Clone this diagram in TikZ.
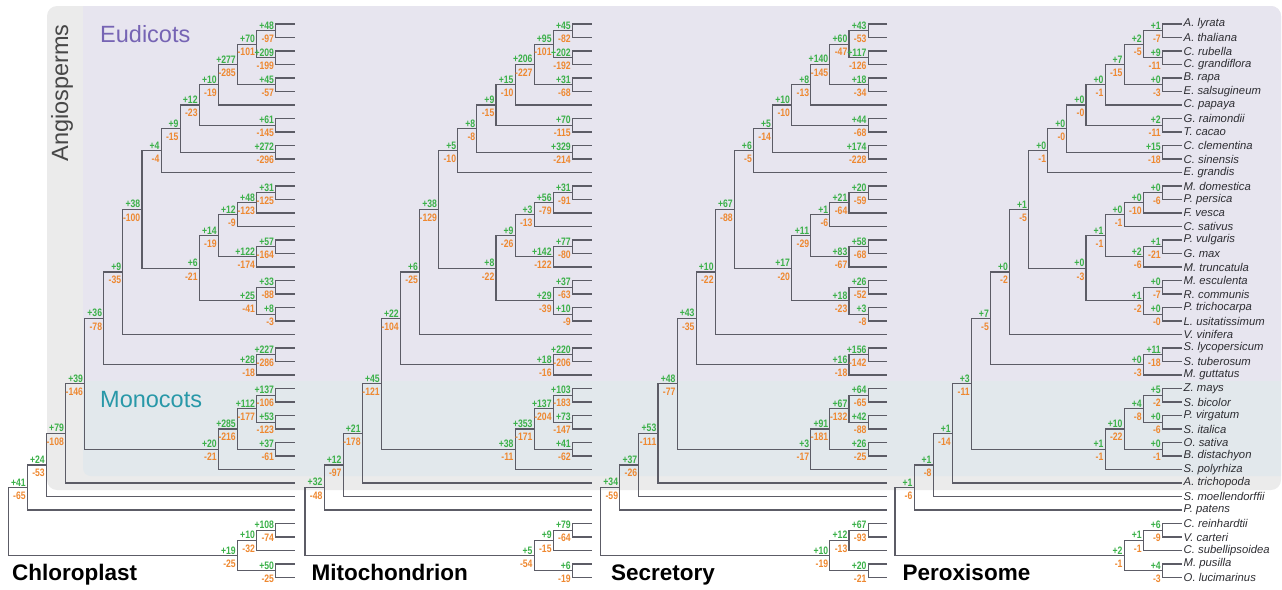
\documentclass[tikz,border=0pt]{standalone}
\usepackage{fontspec}
\setmainfont{Liberation Sans}
\newfontfamily\numfont[FakeStretch=0.8]{Liberation Sans}

\definecolor{gaincol}{RGB}{58,176,72}
\definecolor{losscol}{RGB}{238,136,48}
\definecolor{branchcol}{RGB}{92,92,102}
\definecolor{angiobg}{RGB}{235,235,235}
\definecolor{eudibg}{RGB}{231,229,239}
\definecolor{monobg}{RGB}{226,232,236}
\definecolor{eudicol}{RGB}{118,100,180}
\definecolor{monocol}{RGB}{40,152,168}
\definecolor{spcol}{RGB}{45,45,50}

\tikzset{
  branch/.style={draw=branchcol, line width=1.1pt},
  gain/.style={text=gaincol, font=\numfont\bfseries\fontsize{10.8}{11}\selectfont,
    inner sep=0pt, anchor=south east, xshift=-1.5pt, yshift=1.2pt},
  loss/.style={text=losscol, font=\numfont\bfseries\fontsize{10.8}{11}\selectfont,
    inner sep=0pt, anchor=north east, xshift=-1.5pt, yshift=-4pt},
  species/.style={text=spcol, font=\itshape\fontsize{11.3}{12}\selectfont,
    inner sep=0pt, anchor=west},
  panel/.style={font=\bfseries\fontsize{22.5}{23}\selectfont, inner sep=0pt, anchor=base west},
  clade/.style={font=\fontsize{23.5}{24}\selectfont, inner sep=0pt}
}

\def\stp{19.1}
% name/depth/y of every inner node
\def\nodelist{lyrth/14/30.75, rubgr/14/57.75, arabi/13/44.25, rapsal/14/84.75,
  brass/12/64.5, brpap/11/84.75, raica/14/125.25, malvales/10/105, citrus/14/152.25,
  malvone/9/128.625, malvids/8/150.56, maldom/14/192.75, rosfv/13/202.875,
  rosales/12/214.69, phagly/14/246.75, fabales/13/256.875, fabros/11/235.78,
  mesric/14/287.25, poplin/14/314.25, malpig/13/300.75, fabids/10/268.27,
  rosids/7/209.41, rosvit/6/271.96, solan/14/354.75, lamiid/13/364.875,
  eudic/5/318.42, zeasor/14/395.25, panset/14/422.25, panic/13/408.75,
  orybra/14/449.25, grass/12/429, monoc/11/449.25, mesang/4/383.83,
  angio/3/433.42, vasc/2/464.96, land/1/487.48, volvox/14/530.25,
  chloro/13/540.375, mamiel/14/570.75, green/12/555.56, root/0/521.52}
% parent/child/child
\def\edgelist{lyrth/l1/l2, rubgr/l3/l4, arabi/lyrth/rubgr, rapsal/l5/l6,
  brass/arabi/rapsal, brpap/brass/l7, raica/l8/l9, malvales/brpap/raica,
  citrus/l10/l11, malvone/malvales/citrus, malvids/malvone/l12, maldom/l13/l14,
  rosfv/maldom/l15, rosales/rosfv/l16, phagly/l17/l18, fabales/phagly/l19,
  fabros/rosales/fabales, mesric/l20/l21, poplin/l22/l23, malpig/mesric/poplin,
  fabids/fabros/malpig, rosids/malvids/fabids, rosvit/rosids/l24, solan/l25/l26,
  lamiid/solan/l27, eudic/rosvit/lamiid, zeasor/l28/l29, panset/l30/l31,
  panic/zeasor/panset, orybra/l32/l33, grass/panic/orybra, monoc/grass/l34,
  mesang/eudic/monoc, angio/mesang/l35, vasc/angio/l36, land/vasc/l37,
  volvox/l38/l39, chloro/volvox/l40, mamiel/l41/l42, green/chloro/mamiel,
  root/land/green}

\newcommand\phylo[2]{%
  \foreach \i in {1,...,42}
    \coordinate (#1-l\i) at (#2+15*\stp, 10.5+13.5*\i);
  \foreach \nn/\dep/\yy in \nodelist
    \coordinate (#1-\nn) at (#2+\dep*\stp, \yy);
  \foreach \pp/\ca/\cb in \edgelist
    \draw[branch] (#1-\ca) -| (#1-\pp) |- (#1-\cb);
}
\newcommand\counts[2]{%
  \foreach \nn/\gn/\ls in {#2} {
    \node[gain] (#1-\nn-g) at (#1-\nn) {+\gn};
    \node[loss] (#1-\nn-l) at (#1-\nn) {-\ls};
  }
}

\begin{document}
\begin{tikzpicture}[x=1pt,y=-1pt]
  \useasboundingbox (0,0) rectangle (1282,589);

  % clade boxes
  \begin{scope}
    \clip[rounded corners=10pt] (47,6) rectangle (1281,490);
    \fill[angiobg] (40,0) rectangle (1290,495);
    \fill[monobg, rounded corners=8pt] (83,360) rectangle (1300,476);
    \fill[eudibg] (83,0) rectangle (1290,381);
  \end{scope}
  \node[clade, rotate=90, text=black!72] (angio-lab) at (62,93) {Angiosperms};
  \node[clade, anchor=west, text=eudicol] (eudi-lab) at (100,34) {Eudicots};
  \node[clade, anchor=west, text=monocol] (mono-lab) at (100,400) {Monocots};

  % trees
  \phylo{cp}{8.3}
  \phylo{mt}{305}
  \phylo{sc}{600.7}
  \phylo{px}{895}

  % gains and losses
  \counts{cp}{lyrth/48/97, rubgr/209/199, arabi/70/101, rapsal/45/57, brass/277/285,
    brpap/10/19, raica/61/145, malvales/12/23, citrus/272/296, malvone/9/15,
    malvids/4/4, maldom/31/125, rosfv/48/123, rosales/12/9, phagly/57/164,
    fabales/122/174, fabros/14/19, mesric/33/88, poplin/8/3, malpig/25/41,
    fabids/6/21, rosids/38/100, rosvit/9/35, solan/227/286, lamiid/28/18,
    eudic/36/78, zeasor/137/106, panset/53/123, panic/112/177, orybra/37/61,
    grass/285/216, monoc/20/21, mesang/39/146, angio/79/108, vasc/24/53,
    land/41/65, volvox/108/74, chloro/10/32, mamiel/50/25, green/19/25}
  \counts{mt}{lyrth/45/82, rubgr/202/192, arabi/95/101, rapsal/31/68, brass/206/227,
    brpap/15/10, raica/70/115, malvales/9/15, citrus/329/214, malvone/8/8,
    malvids/5/10, maldom/31/91, rosfv/56/79, rosales/3/13, phagly/77/80,
    fabales/142/122, fabros/9/26, mesric/37/63, poplin/10/9, malpig/29/39,
    fabids/8/22, rosids/38/129, rosvit/6/25, solan/220/206, lamiid/18/16,
    eudic/22/104, zeasor/103/183, panset/73/147, panic/137/204, orybra/41/62,
    grass/353/171, monoc/38/11, mesang/45/121, angio/21/178, vasc/12/97,
    land/32/48, volvox/79/64, chloro/9/15, mamiel/6/19, green/5/54}
  \counts{sc}{lyrth/43/53, rubgr/117/126, arabi/60/47, rapsal/18/34, brass/140/145,
    brpap/8/13, raica/44/68, malvales/10/10, citrus/174/228, malvone/5/14,
    malvids/6/5, maldom/20/59, rosfv/21/64, rosales/1/6, phagly/58/68,
    fabales/83/67, fabros/11/29, mesric/26/52, poplin/3/8, malpig/18/23,
    fabids/17/20, rosids/67/88, rosvit/10/22, solan/156/142, lamiid/16/18,
    eudic/43/35, zeasor/64/65, panset/42/88, panic/67/132, orybra/26/25,
    grass/91/181, monoc/3/17, mesang/48/77, angio/53/111, vasc/37/26,
    land/34/59, volvox/67/93, chloro/12/13, mamiel/20/21, green/10/19}
  \counts{px}{lyrth/1/7, rubgr/9/11, arabi/2/5, rapsal/0/3, brass/7/15,
    brpap/0/1, raica/2/11, malvales/0/0, citrus/15/18, malvone/0/0,
    malvids/0/1, maldom/0/6, rosfv/0/10, rosales/0/1, phagly/1/21,
    fabales/2/6, fabros/1/1, mesric/0/7, poplin/0/0, malpig/1/2,
    fabids/0/3, rosids/1/5, rosvit/0/2, solan/11/18, lamiid/0/3,
    eudic/7/5, zeasor/5/2, panset/0/6, panic/4/8, orybra/0/1,
    grass/10/22, monoc/1/1, mesang/3/11, angio/1/14, vasc/1/8,
    land/1/6, volvox/6/9, chloro/1/1, mamiel/4/3, green/2/1}

  % species
  \foreach \i/\s in {1/A. lyrata, 2/A. thaliana, 3/C. rubella, 4/C. grandiflora,
    5/B. rapa, 6/E. salsugineum, 7/C. papaya, 8/G. raimondii, 9/T. cacao,
    10/C. clementina, 11/C. sinensis, 12/E. grandis, 13/M. domestica,
    14/P. persica, 15/F. vesca, 16/C. sativus, 17/P. vulgaris, 18/G. max,
    19/M. truncatula, 20/M. esculenta, 21/R. communis, 22/P. trichocarpa,
    23/L. usitatissimum, 24/V. vinifera, 25/S. lycopersicum, 26/S. tuberosum,
    27/M. guttatus, 28/Z. mays, 29/S. bicolor, 30/P. virgatum, 31/S. italica,
    32/O. sativa, 33/B. distachyon, 34/S. polyrhiza, 35/A. trichopoda,
    36/S. moellendorffii, 37/P. patens, 38/C. reinhardtii, 39/V. carteri,
    40/C. subellipsoidea, 41/M. pusilla, 42/O. lucimarinus}
    \node[species] (sp\i) at ([xshift=2pt]px-l\i) {\s};

  % panel titles
  \node[panel] (cp-title) at (12,580) {Chloroplast};
  \node[panel] (mt-title) at (311.5,580) {Mitochondrion};
  \node[panel] (sc-title) at (611,580) {Secretory};
  \node[panel] (px-title) at (902.5,580) {Peroxisome};
\end{tikzpicture}
\end{document}
